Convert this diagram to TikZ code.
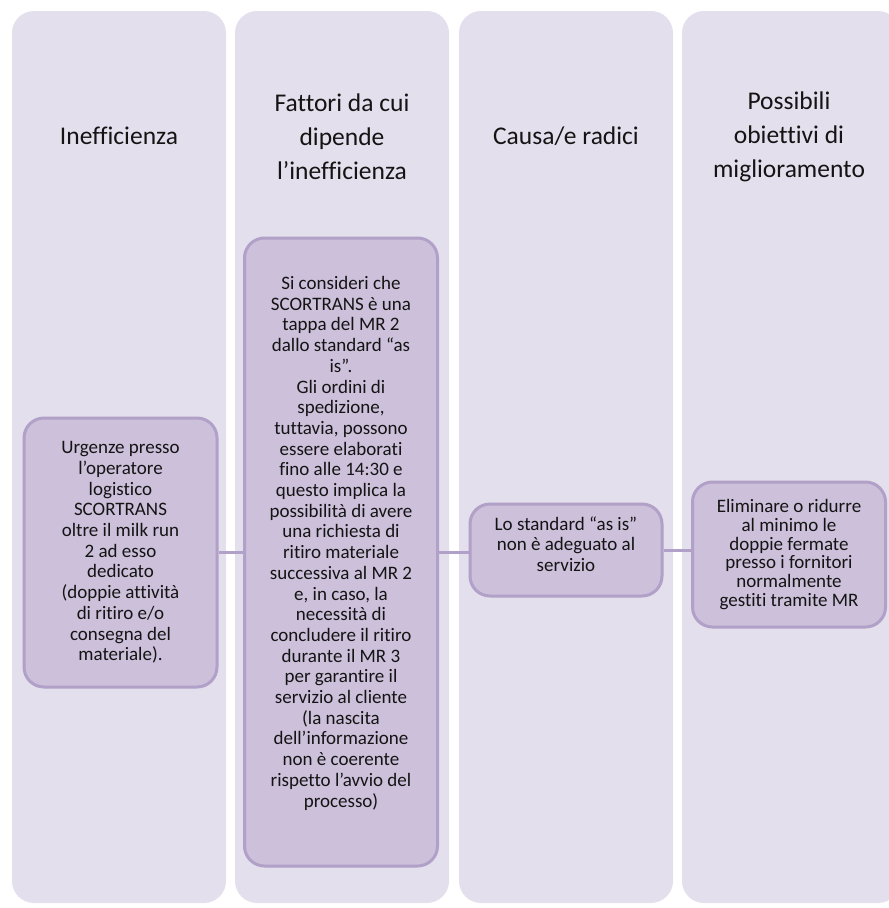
\documentclass[tikz,border=0pt]{standalone}
\usepackage{fontspec}
\setmainfont{Carlito}[Ligatures=NoCommon]
\definecolor{colbg}{HTML}{E4DFEC}
\definecolor{boxfill}{HTML}{CCC0DA}
\definecolor{boxline}{HTML}{B1A0C7}
\definecolor{txt}{HTML}{141414}
\tikzset{
  column/.style={fill=colbg, draw=none, rounded corners=22pt},
  title/.style={align=center, text=txt, font=\fontsize{25.5}{34}\selectfont, inner sep=0pt},
  item/.style={draw=boxline, line width=3pt, fill=boxfill, rounded corners=20pt,
    align=center, text=txt, font=\fontsize{19}{20.7}\selectfont, inner sep=0pt,
    minimum width=193pt},
  link/.style={draw=boxline, line width=3pt}
}
\begin{document}
\begin{tikzpicture}[x=1pt, y=-1pt]
\useasboundingbox (0,0) rectangle (889,908);
\clip (0,0) rectangle (889,908);
% four background columns
\path[column] (12,11) rectangle (226,903);
\path[column] (235,11) rectangle (449,903);
\path[column] (459,11) rectangle (673,903);
\path[column] (682,11) rectangle (900,903);
% column headings
\node[title] (h1) at (119,136) {Inefficienza};
\node[title] (h2) at (342,137) {Fattori da cui\\dipende\\l’inefficienza};
\node[title] (h3) at (566,136) {Causa/e radici};
\node[title] (h4) at (789,137) {Possibili\\obiettivi di\\miglioramento};
% content boxes
\node[item, minimum height=269pt] (b1) at (120.5,552.5) {Urgenze presso\\l’operatore\\logistico\\SCORTRANS\\oltre il milk run\\2 ad esso\\dedicato\\(doppie attività\\di ritiro e/o\\consegna del\\materiale).};
\node[item, minimum height=628pt] (b2) at (341,552) {Si consideri che\\SCORTRANS è una\\tappa del MR 2\\dallo standard “as\\is”.\\Gli ordini di\\spedizione,\\tuttavia, possono\\essere elaborati\\fino alle 14:30 e\\questo implica la\\possibilità di avere\\una richiesta di\\ritiro materiale\\successiva al MR 2\\e, in caso, la\\necessità di\\concludere il ritiro\\durante il MR 3\\per garantire il\\servizio al cliente\\(la nascita\\dell’informazione\\non è coerente\\rispetto l’avvio del\\processo)\\\mbox{}};
\node[item, minimum height=92pt, minimum width=192pt, text depth=12pt] (b3) at (566,550) {Lo standard “as is”\\non è adeguato al\\servizio};
\node[item, minimum height=145pt, minimum width=193pt,
  font=\fontsize{19}{18.7}\selectfont] (b4) at (789,554.5) {Eliminare o ridurre\\al minimo le\\doppie fermate\\presso i fornitori\\normalmente\\gestiti tramite MR};
% connectors
\draw[link] (b1.east) -- (b1.east -| b2.west);
\draw[link] (b2.east) -- (b2.east -| b3.west);
\draw[link] (b3.east) -- (b3.east -| b4.west);
\end{tikzpicture}
\end{document}
